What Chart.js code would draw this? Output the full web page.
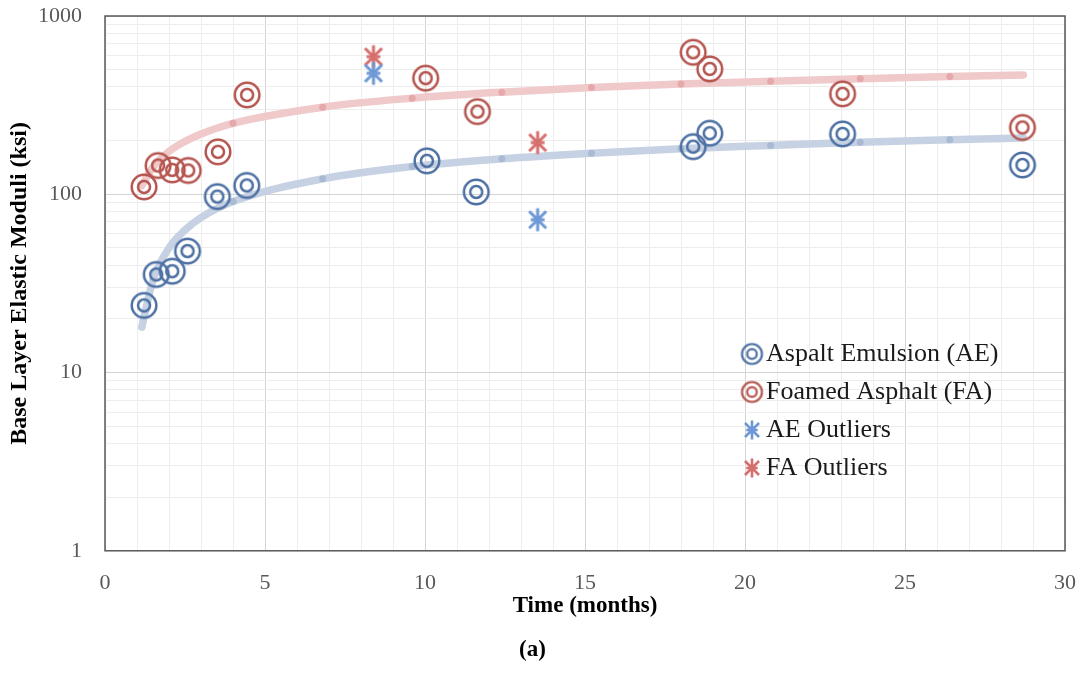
<!DOCTYPE html>
<html><head><meta charset="utf-8">
<script src="https://cdn.jsdelivr.net/npm/chart.js@4.4.1/dist/chart.umd.min.js"></script>
<style>html,body{margin:0;padding:0;background:#fff;}canvas{display:block;}</style>
</head><body>
<canvas id="c" width="1086" height="676"></canvas>
<script>
// ---- data ----
const aeTime    = [1.22, 1.6, 2.1, 2.58, 3.51, 4.43, 10.06, 11.6, 18.38, 18.9, 23.05, 28.67];
const aeModulus = [23.8, 35.5, 37, 48, 97, 112, 154, 103, 185, 220, 218, 146];
const faTime    = [1.22, 1.66, 2.1, 2.6, 3.53, 4.44, 10.02, 11.64, 18.38, 18.9, 23.05, 28.67];
const faModulus = [110, 145, 137, 136, 173, 361, 448, 291, 626, 505, 366, 237];
const aeOutTime    = [8.39, 13.52];
const aeOutModulus = [477, 72];
const faOutTime    = [8.39, 13.52];
const faOutModulus = [591, 195];
const trendTime = [1.15, 1.5, 2, 2.5, 3, 4, 6.8, 9.6, 12.4, 15.2, 18, 20.8, 23.6, 26.4, 28.7];
const aeTrend   = [18, 33, 50, 63, 74, 91, 122, 143, 158, 170, 180, 188, 196, 202, 207];
const faTrend   = [112, 142, 174, 198, 218, 250, 308, 346, 374, 397, 415, 431, 445, 458, 467];
const trendDots = [0, 0, 0, 0, 0, 1, 1, 1, 1, 1, 1, 1, 1, 1, 0];
const yTickValues  = [1,2,3,4,5,6,7,8,9,10,20,30,40,50,60,70,80,90,100,200,300,400,500,600,700,800,900,1000];
const yLabelValues = [1, 10, 100, 1000];
const xLabelStep = 5;
const labels = ['Aspalt Emulsion (AE)', 'Foamed Asphalt (FA)', 'AE Outliers', 'FA Outliers'];

const FONT = "'Liberation Serif', 'Times New Roman', serif";
const AE_C = '#4d70a3', FA_C = '#b5554f', AEO_C = '#6d98d6', FAO_C = '#d66f6c';

function rings(color, ro, ri, lw) {
  const s = Math.ceil(2 * ro + lw + 2);
  const c = document.createElement('canvas'); c.width = s; c.height = s;
  const g = c.getContext('2d'); g.strokeStyle = color; g.lineWidth = lw;
  g.beginPath(); g.arc(s/2, s/2, ro, 0, Math.PI*2); g.stroke();
  g.beginPath(); g.arc(s/2, s/2, ri, 0, Math.PI*2); g.stroke();
  return c;
}
function star(color, r, lw) {
  const s = Math.ceil(2 * r + lw + 2);
  const c = document.createElement('canvas'); c.width = s; c.height = s;
  const g = c.getContext('2d'); g.strokeStyle = color; g.lineWidth = lw; g.lineCap = 'butt';
  const m = s/2, d = r*0.74, h = r*0.6, q = r*0.22;
  g.beginPath();
  g.moveTo(m, m-r); g.lineTo(m, m+r);
  g.moveTo(m-d, m-d); g.lineTo(m+d, m+d);
  g.moveTo(m+d, m-d); g.lineTo(m-d, m+d);
  g.moveTo(m-h, m); g.lineTo(m-q, m);
  g.moveTo(m+q, m); g.lineTo(m+h, m);
  g.stroke();
  return c;
}
const aeMark = rings(AE_C, 12.3, 6, 2.5), faMark = rings(FA_C, 12.3, 6, 2.5);
const aeOutMark = star(AEO_C, 11.5, 3), faOutMark = star(FAO_C, 11.5, 3);
const legendMarks = [rings(AE_C, 10, 4.8, 2.2), rings(FA_C, 10, 4.8, 2.2), star(AEO_C, 9.5, 2.6), star(FAO_C, 9.5, 2.6)];

const pts = (xs, ys) => xs.map((x, i) => ({x, y: ys[i]}));

const framePlugin = {
  id: 'frame',
  beforeDatasetsDraw(chart) {
    const {ctx, chartArea: a} = chart;
    ctx.save(); ctx.strokeStyle = '#595959'; ctx.lineWidth = 1.5;
    ctx.strokeRect(a.left, a.top, a.right - a.left, a.bottom - a.top);
    ctx.restore();
  }
};
const legendPlace = {
  id: 'legendPlace',
  afterLayout(chart) {
    const lg = chart.legend; if (!lg) return;
    lg.left = 739; lg.top = 329; lg.right = 1062; lg.bottom = 545;
    lg.width = lg.right - lg.left; lg.height = lg.bottom - lg.top;
  }
};

const trendDs = (data, line, dot) => ({
  data, showLine: true, borderColor: line, borderWidth: 7.5, cubicInterpolationMode: 'monotone',
  borderCapStyle: 'round', pointRadius: trendDots.map(v => v ? 3.5 : 0),
  pointBackgroundColor: dot, pointBorderWidth: 0, order: 5
});

new Chart(document.getElementById('c'), {
  type: 'scatter',
  data: {
    datasets: [
      {label: labels[0], data: pts(aeTime, aeModulus), pointStyle: aeMark, pointRadius: 12},
      {label: labels[1], data: pts(faTime, faModulus), pointStyle: faMark, pointRadius: 12},
      {label: labels[2], data: pts(aeOutTime, aeOutModulus), pointStyle: aeOutMark, pointRadius: 12},
      {label: labels[3], data: pts(faOutTime, faOutModulus), pointStyle: faOutMark, pointRadius: 12},
      trendDs(pts(trendTime, aeTrend), '#c6d2e3', '#a8bad4'),
      trendDs(pts(trendTime, faTrend), '#f0c9ca', '#e6a9ab')
    ]
  },
  options: {
    responsive: false, animation: false, events: [],
    layout: {padding: {top: 16, left: 0, right: 21, bottom: 0}},
    scales: {
      x: {
        type: 'linear', min: 0, max: 30,
        afterFit(s) { s.height = 71.6; s.paddingLeft = 0; s.paddingRight = 0; },
        ticks: {stepSize: 1, autoSkip: false, maxRotation: 0, padding: 19, color: '#595959',
          font: {family: FONT, size: 22},
          callback: v => (v % xLabelStep === 0 ? String(v) : '')},
        grid: {drawTicks: false, color: c => (c.tick && c.tick.value % xLabelStep === 0 ? '#d4d4d4' : '#ededed')},
        border: {display: false},
        title: {display: true, text: 'Time (months)', color: '#000', padding: {top: 0, bottom: 3},
          font: {family: FONT, size: 23, weight: 'bold'}}
      },
      y: {
        type: 'logarithmic', min: 1, max: 1000,
        afterFit(s) { s.width = 105; s.paddingTop = 0; s.paddingBottom = 0; },
        afterBuildTicks(s) { s.ticks = yTickValues.map(v => ({value: v})); },
        ticks: {autoSkip: false, padding: 23, color: '#595959', font: {family: FONT, size: 22},
          callback: v => (yLabelValues.includes(v) ? String(v) : '')},
        grid: {drawTicks: false, color: c => (c.tick && yLabelValues.includes(c.tick.value) ? '#d4d4d4' : '#ededed')},
        border: {display: false},
        title: {display: true, text: 'Base Layer Elastic Moduli (ksi)', color: '#000', padding: {top: 5, bottom: 0},
          font: {family: FONT, size: 24, weight: 'bold'}}
      }
    },
    plugins: {
      tooltip: {enabled: false},
      title: {display: true, position: 'bottom', text: '(a)', color: '#000', padding: {top: 14, bottom: 12},
        font: {family: FONT, size: 23, weight: 'bold'}},
      legend: {
        position: 'chartArea', align: 'start',
        labels: {
          usePointStyle: true, boxWidth: 2, boxHeight: 2, padding: 12, color: '#1a1a1a',
          font: {family: FONT, size: 26},
          filter: item => item.datasetIndex < 4,
          generateLabels(chart) {
            const items = Chart.defaults.plugins.legend.labels.generateLabels(chart);
            items.forEach(it => { if (it.datasetIndex < 4) it.pointStyle = legendMarks[it.datasetIndex]; });
            return items;
          }
        }
      }
    }
  },
  plugins: [framePlugin, legendPlace]
});
</script>
</body></html>
